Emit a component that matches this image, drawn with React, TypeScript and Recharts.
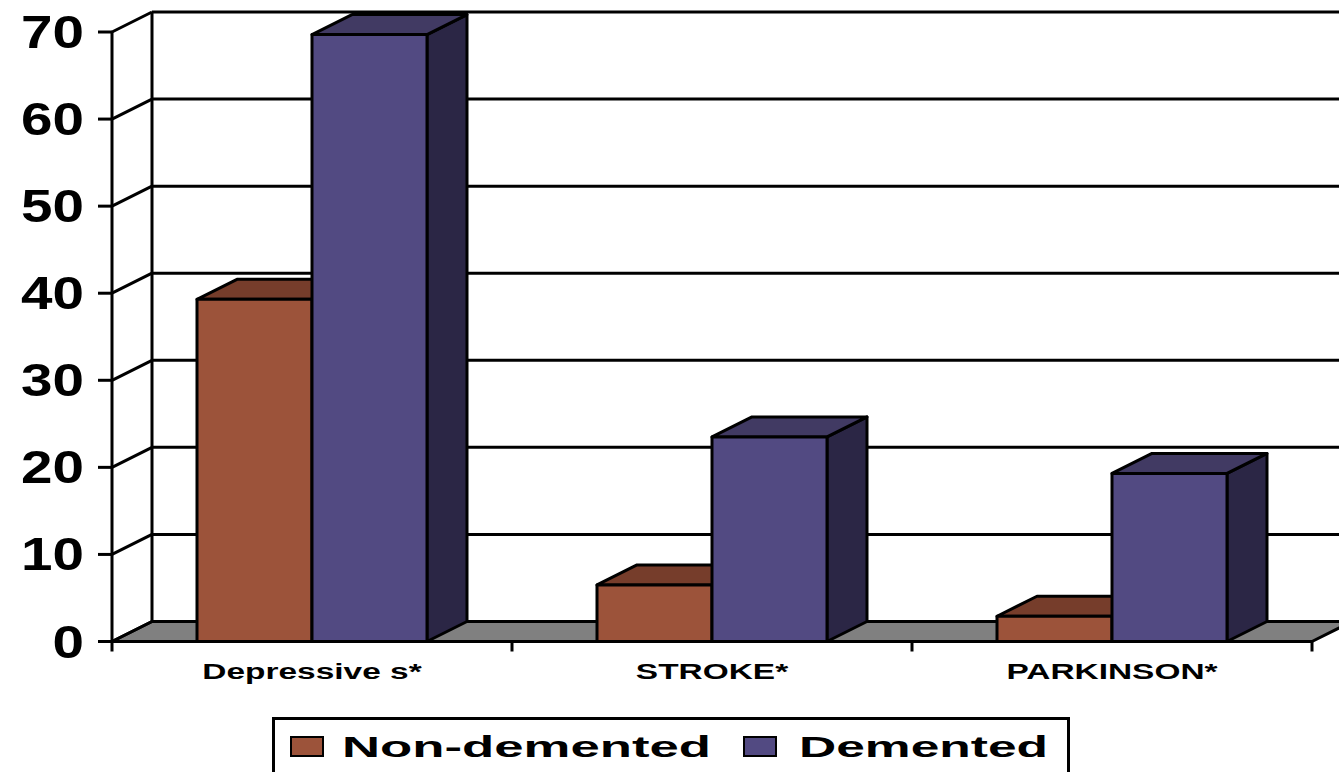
import React from 'react';
import { BarChart, Bar, XAxis, YAxis, CartesianGrid, Legend } from 'recharts';

const CATEGORIES = ['Depressive s*', 'STROKE*', 'PARKINSON*'];
const NON_DEMENTED = [39.3, 6.5, 2.9];
const DEMENTED = [69.7, 23.5, 19.3];
const Y_TICKS = [0, 10, 20, 30, 40, 50, 60, 70];

const data = CATEGORIES.map((name, i) => ({
  name,
  nonDemented: NON_DEMENTED[i],
  demented: DEMENTED[i],
}));

// frame geometry (front plane of the 3D box)
const W = 1339;
const H = 772;
const PLOT_LEFT = 112;
const PLOT_RIGHT = 1312;
const PLOT_TOP = 32;
const PLOT_BOTTOM = 641.5;
const DX = 40; // depth offset, to the right
const DY = -20; // depth offset, upward
const LINE = 3;
const BAND = (PLOT_RIGHT - PLOT_LEFT) / CATEGORIES.length;
const FONT = '"Liberation Sans", Arial, sans-serif';

type Shade = { front: string; top: string; side: string };

const SERIES: { key: string; name: string; shade: Shade }[] = [
  { key: 'nonDemented', name: 'Non-demented', shade: { front: '#9C533A', top: '#763D2B', side: '#5A2E20' } },
  { key: 'demented', name: 'Demented', shade: { front: '#524A82', top: '#413A63', side: '#2B2645' } },
];

// extruded column: front face, top and right side
const makeBox = (c: Shade) => (props: any) => {
  const { x, y, width: w, height: h } = props;
  if (w == null || h == null) return <g />;
  const top = `${x},${y} ${x + DX},${y + DY} ${x + w + DX},${y + DY} ${x + w},${y}`;
  const side = `${x + w},${y} ${x + w + DX},${y + DY} ${x + w + DX},${y + h + DY} ${x + w},${y + h}`;
  return (
    <g stroke="#000" strokeWidth={LINE} strokeLinejoin="round">
      <polygon points={side} fill={c.side} />
      <polygon points={top} fill={c.top} />
      <rect x={x} y={y} width={w} height={h} fill={c.front} />
    </g>
  );
};

// back wall gridline + side wall diagonal; the zero line also carries the floor
const WallLine = (props: any) => {
  const { x1, y1, x2, index } = props;
  const isFloor = Math.abs(y1 - PLOT_BOTTOM) < 1;
  return (
    <g key={`wall-${index}`} stroke="#000" strokeWidth={LINE} strokeLinejoin="round">
      {isFloor && (
        <polygon
          points={`${x1},${y1} ${x2},${y1} ${x2 + DX},${y1 + DY} ${x1 + DX},${y1 + DY}`}
          fill="#808080"
        />
      )}
      <line x1={x1} y1={y1} x2={x1 + DX} y2={y1 + DY} />
      <line x1={x1 + DX} y1={y1 + DY} x2={x2 + DX} y2={y1 + DY} />
      {index === 0 && (
        <line x1={x1 + DX} y1={PLOT_TOP + DY} x2={x1 + DX} y2={PLOT_BOTTOM + DY} />
      )}
    </g>
  );
};

const YTick = ({ x, y, payload }: any) => (
  <g>
    <line x1={x - 14} y1={y} x2={x} y2={y} stroke="#000" strokeWidth={LINE} />
    <text
      transform={`translate(${x - 28},${y + 16}) scale(1.23,1)`}
      textAnchor="end"
      fontSize={46}
      fontWeight="bold"
      fontFamily={FONT}
      fill="#000"
    >
      {payload.value}
    </text>
  </g>
);

const XTick = ({ x, y, payload, index }: any) => (
  <g>
    <line x1={x - BAND / 2} y1={y} x2={x - BAND / 2} y2={y + 10} stroke="#000" strokeWidth={LINE} />
    {index === CATEGORIES.length - 1 && (
      <line x1={x + BAND / 2} y1={y} x2={x + BAND / 2} y2={y + 10} stroke="#000" strokeWidth={LINE} />
    )}
    <text
      transform={`translate(${x},${y + 37}) scale(1.52,1)`}
      textAnchor="middle"
      fontSize={22}
      fontWeight="bold"
      fontFamily={FONT}
      fill="#000"
    >
      {payload.value}
    </text>
  </g>
);

const LEGEND_TEXT_WIDTH = [369, 249];
const LEGEND_SWATCH_X = [19, 472];
const LEGEND_TEXT_X = [70, 527];

const LegendBox = ({ payload }: any) => (
  <svg width={800} height={60} style={{ display: 'block' }}>
    <rect x={1.5} y={1.5} width={795} height={100} fill="#fff" stroke="#000" strokeWidth={3} />
    {SERIES.map((s, i) => {
      const item = (payload || []).find((p: any) => p.dataKey === s.key);
      return (
        <g key={s.key}>
          <rect
            x={LEGEND_SWATCH_X[i]}
            y={20}
            width={32}
            height={19}
            fill={item?.color ?? s.shade.front}
            stroke="#000"
            strokeWidth={2}
          />
          <text
            x={LEGEND_TEXT_X[i]}
            y={40}
            fontSize={30}
            fontWeight="bold"
            fontFamily={FONT}
            textLength={LEGEND_TEXT_WIDTH[i]}
            lengthAdjust="spacingAndGlyphs"
            fill="#000"
          >
            {item?.value ?? s.name}
          </text>
        </g>
      );
    })}
  </svg>
);

export default function App() {
  return (
    <div
      style={{
        position: 'absolute',
        left: 0,
        top: 0,
        width: W,
        height: H,
        overflow: 'hidden',
        background: '#fff',
      }}
    >
      <BarChart
        width={W}
        height={H}
        data={data}
        margin={{ top: PLOT_TOP, right: W - PLOT_RIGHT, bottom: 0, left: 0 }}
        barCategoryGap={85}
        barGap={0}
      >
        <CartesianGrid vertical={false} horizontal={WallLine} />
        <XAxis
          dataKey="name"
          height={H - PLOT_BOTTOM}
          interval={0}
          tickLine={false}
          tickSize={0}
          tickMargin={0}
          axisLine={{ stroke: '#000', strokeWidth: LINE }}
          tick={<XTick />}
        />
        <YAxis
          width={PLOT_LEFT}
          domain={[0, 70]}
          ticks={Y_TICKS}
          interval={0}
          tickLine={false}
          tickSize={0}
          tickMargin={0}
          axisLine={{ stroke: '#000', strokeWidth: LINE }}
          tick={<YTick />}
        />
        <Legend
          layout="horizontal"
          verticalAlign="middle"
          align="center"
          wrapperStyle={{ left: 272, top: 717, width: 800, height: 60 }}
          content={<LegendBox />}
        />
        {SERIES.map((s) => (
          <Bar
            key={s.key}
            dataKey={s.key}
            name={s.name}
            fill={s.shade.front}
            shape={makeBox(s.shade)}
            isAnimationActive={false}
          />
        ))}
      </BarChart>
    </div>
  );
}
